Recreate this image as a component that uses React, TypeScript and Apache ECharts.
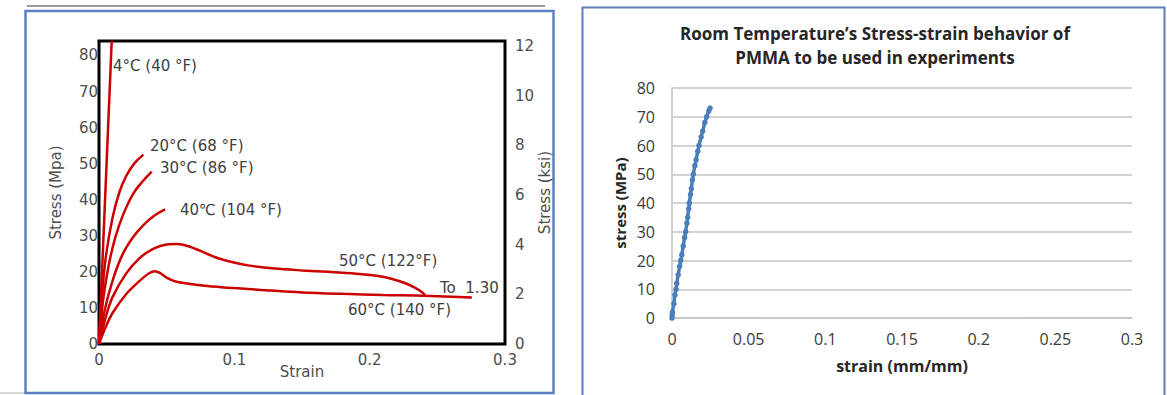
import React, { useEffect, useRef } from "react";
import * as echarts from "echarts";

// ---- Left chart data (strain, stress MPa) ----
const curve4C = [[0, 0], [0.0094, 84]];
const curve20C = [[0, 0], [0.002, 12], [0.005, 24], [0.01, 35], [0.015, 42], [0.02, 46.5], [0.026, 50], [0.0328, 52.5]];
const curve30C = [[0, 0], [0.003, 12], [0.007, 21.5], [0.012, 29.5], [0.018, 36], [0.025, 41.5], [0.032, 45], [0.039, 47.8]];
const curve40C = [[0, 0], [0.004, 9], [0.01, 17.5], [0.017, 24.5], [0.025, 29.5], [0.033, 33], [0.041, 35.6], [0.0488, 37.3]];
const curve50C = [[0, 0], [0.005, 7.5], [0.01, 13], [0.02, 19.5], [0.03, 23.8], [0.04, 26.4], [0.05, 27.6], [0.058, 27.7], [0.066, 27.1], [0.075, 25.8], [0.085, 24.2], [0.095, 23], [0.11, 21.8], [0.13, 20.9], [0.15, 20.4], [0.17, 20], [0.19, 19.5], [0.205, 18.9], [0.216, 18.1], [0.226, 16.9], [0.234, 15.5], [0.239, 14.3], [0.241, 13.5]];
const curve60C = [[0, 0], [0.005, 4.8], [0.01, 8.6], [0.02, 13.8], [0.03, 17.5], [0.037, 19.6], [0.0414, 20.2], [0.045, 19.7], [0.05, 18.4], [0.056, 17.4], [0.065, 16.8], [0.08, 16.1], [0.1, 15.5], [0.12, 15], [0.15, 14.3], [0.18, 13.9], [0.21, 13.6], [0.24, 13.4], [0.2755, 12.9]];
const curveLabels = ["4°C (40 °F)", "20°C (68 °F)", "30°C (86 °F)", "40℃ (104 °F)", "50°C (122°F)", "60°C (140 °F)", "To  1.30"];

// ---- Right chart data (strain mm/mm, stress MPa) ----
const pmmaStrain = [0, 0.0001, 0.0003, 0.0012, 0.0019, 0.0026, 0.0031, 0.004, 0.005, 0.0057, 0.0064, 0.0073, 0.0082, 0.0089, 0.0097, 0.0102, 0.0109, 0.0113, 0.0121, 0.0126, 0.0133, 0.0139, 0.0149, 0.0157, 0.0168, 0.0176, 0.019, 0.02, 0.0214, 0.0226, 0.024, 0.0248];
const pmmaStress = [0, 1, 2, 5, 8, 10, 12, 15, 18, 20, 22, 25, 28, 30, 33, 35, 38, 40, 43, 45, 48, 50, 53, 55, 58, 60, 63, 65, 68, 70, 72, 73];
const titleLines = ["Room Temperature’s Stress-strain behavior of", "PMMA to be used in experiments"];

const RED = "#cc0000";
const DV = '"DejaVu Sans", sans-serif';
const OS = '"Open Sans", sans-serif';
const GRAY = "#4d4d4d";

export default function App() {
  const ref = useRef<HTMLDivElement>(null);
  useEffect(() => {
    if (!ref.current) return;
    const chart = echarts.init(ref.current, null, { renderer: "svg" });
    const redLine = (name: string, data: number[][], smooth: number | boolean) => ({
      name, type: "line", xAxisIndex: 0, yAxisIndex: 0, data, smooth,
      showSymbol: false, symbol: "none", lineStyle: { color: RED, width: 2.5 }, z: 3,
    });
    const labelPos: [number, number][] = [[113, 66], [150, 146], [160, 168], [180, 210], [339, 261], [348, 310], [440, 288]];
    const graphics: any[] = [
      { type: "line", shape: { x1: 27, y1: 6, x2: 545, y2: 6 }, style: { stroke: "#9a9a9a", lineWidth: 2 } },
      { type: "line", shape: { x1: 0, y1: 393, x2: 25, y2: 393 }, style: { stroke: "#c8c8c8", lineWidth: 1.5 } },
      { type: "rect", shape: { x: 25.5, y: 11, width: 528, height: 382 }, style: { fill: "none", stroke: "#5b7fc0", lineWidth: 2.5 } },
      { type: "rect", shape: { x: 582.5, y: 7.5, width: 582, height: 400 }, style: { fill: "none", stroke: "#5b7fc0", lineWidth: 2 } },
      ...curveLabels.map((t, i) => ({
        type: "text", x: labelPos[i][0], y: labelPos[i][1], z: 10,
        style: { text: t, fill: "#404040", font: `15px ${DV}`, align: "left", verticalAlign: "middle" },
      })),
      ...titleLines.map((t, i) => ({
        type: "text", x: 875, y: 33 + i * 24, z: 10,
        style: { text: t, fill: "#262626", font: `bold 17px ${OS}`, align: "center", verticalAlign: "middle" },
      })),
    ];
    chart.setOption({
      animation: false,
      backgroundColor: "#ffffff",
      grid: [
        { left: 99, top: 41, width: 406, height: 303, show: true, borderColor: "#000", borderWidth: 3, backgroundColor: "transparent" },
        { left: 672, top: 88, width: 460, height: 230, show: false },
      ],
      xAxis: [
        {
          type: "value", gridIndex: 0, min: 0, max: 0.3, interval: 0.1,
          name: "Strain", nameLocation: "middle", nameGap: 20, nameMoveOverlap: false,
          nameTextStyle: { color: GRAY, fontSize: 15, fontFamily: DV },
          axisLine: { show: false }, axisTick: { show: false }, splitLine: { show: false },
          axisLabel: { color: GRAY, fontSize: 15, fontFamily: DV, margin: 8 },
        },
        {
          type: "value", gridIndex: 1, min: 0, max: 0.3, interval: 0.05,
          name: "strain (mm/mm)", nameLocation: "middle", nameGap: 40,
          nameTextStyle: { color: "#262626", fontSize: 16, fontWeight: "bold", fontFamily: OS },
          axisLine: { show: true, lineStyle: { color: "#c4c4c4", width: 1.5 } },
          axisTick: { show: false }, splitLine: { show: false },
          axisLabel: { color: "#3a3a3a", fontSize: 16, fontFamily: OS, margin: 13 },
        },
      ],
      yAxis: [
        {
          type: "value", gridIndex: 0, min: 0, max: 84, interval: 10, position: "left",
          name: "Stress (Mpa)", nameLocation: "middle", nameGap: 36, nameRotate: 90,
          nameTextStyle: { color: GRAY, fontSize: 15, fontFamily: DV },
          axisLine: { show: false }, axisTick: { show: false }, splitLine: { show: false },
          axisLabel: { color: GRAY, fontSize: 15, fontFamily: DV, margin: 1, showMaxLabel: false },
        },
        {
          type: "value", gridIndex: 0, min: 0, max: 12.2, interval: 2, position: "right",
          name: "Stress (ksi)", nameLocation: "middle", nameGap: 32, nameRotate: 90,
          nameTextStyle: { color: GRAY, fontSize: 15, fontFamily: DV },
          axisLine: { show: false }, axisTick: { show: false }, splitLine: { show: false },
          axisLabel: { color: GRAY, fontSize: 15, fontFamily: DV, margin: 10, showMaxLabel: false },
        },
        {
          type: "value", gridIndex: 1, min: 0, max: 80, interval: 10,
          name: "stress (MPa)", nameLocation: "middle", nameGap: 45, nameRotate: 90,
          nameTextStyle: { color: "#262626", fontSize: 15, fontWeight: "bold", fontFamily: OS },
          axisLine: { show: true, lineStyle: { color: "#c4c4c4", width: 1.5 } },
          axisTick: { show: false },
          splitLine: { show: true, lineStyle: { color: "#c4c4c4", width: 1.5 } },
          axisLabel: { color: "#3a3a3a", fontSize: 16, fontFamily: OS, margin: 17 },
        },
      ],
      graphic: graphics,
      series: [
        redLine("4C", curve4C, false),
        redLine("20C", curve20C, 0.4),
        redLine("30C", curve30C, 0.4),
        redLine("40C", curve40C, 0.4),
        redLine("50C", curve50C, 0.3),
        redLine("60C", curve60C, 0.3),
        {
          name: "PMMA", type: "line", xAxisIndex: 1, yAxisIndex: 2,
          data: pmmaStrain.map((s, i) => [s, pmmaStress[i]]),
          symbol: "circle", symbolSize: 5.5, showSymbol: true,
          itemStyle: { color: "#4a7ebb" }, lineStyle: { color: "#4a7ebb", width: 3.5 }, z: 3,
        },
      ],
    });
    return () => chart.dispose();
  }, []);
  return <div ref={ref} style={{ position: "absolute", left: 0, top: 0, width: 1167, height: 395 }} />;
}
